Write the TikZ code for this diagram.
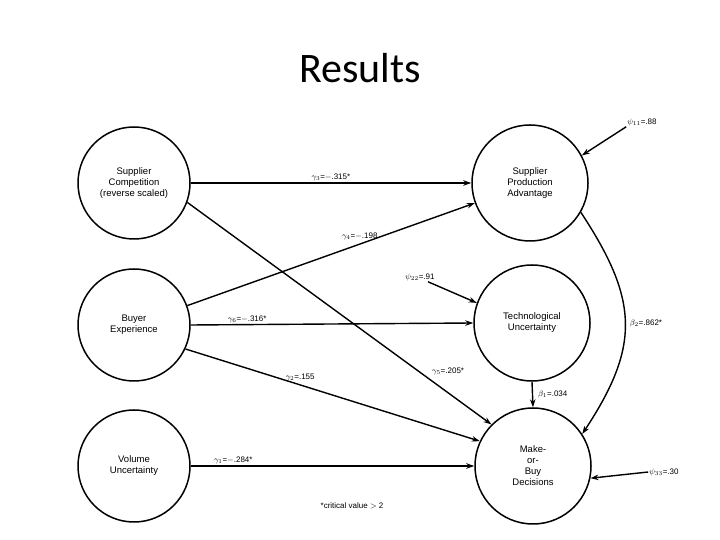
\documentclass[tikz,border=0pt]{standalone}
\usepackage{fontspec}
\setmainfont{Liberation Sans}
\newfontfamily\titlefont{Carlito}
\usetikzlibrary{arrows.meta}
\begin{document}
\begin{tikzpicture}[x=1pt,y=1pt,
  latent/.style={circle,draw,line width=1.5pt,minimum size=112pt,inner sep=0pt,align=center,font=\fontsize{9.5}{11}\selectfont},
  latentr/.style={latent,minimum size=116pt},
  path/.style={line width=1.4pt,-{Stealth[length=8pt,width=5.5pt]}},
  lab/.style={font=\fontsize{8}{9.5}\selectfont,inner sep=1pt}]
\useasboundingbox (0,0) rectangle (720,540);
\node[font=\titlefont\fontsize{42}{46}\selectfont] (title) at (360,472) {Results};
% latent variables
\node[latent] (sc) at (134,357) {Supplier\\Competition\\(reverse scaled)};
\node[latent] (be) at (134,215) {Buyer\\Experience};
\node[latent] (vu) at (134,74) {Volume\\Uncertainty};
\node[latentr] (spa) at (530,357) {Supplier\\Production\\Advantage};
\node[latentr] (tu) at (532,217) {Technological\\Uncertainty};
\node[latentr] (mob) at (533,74) {Make-\\or-\\Buy\\Decisions};
% paths
\draw[path] (sc.east) -- node[lab,above,pos=0.5] {$\gamma_3$=$-$.315*} (spa.west);
\draw[path] (be.20) -- node[lab,above=2pt,pos=0.6] {$\gamma_4$=$-$.198} (spa.200);
\draw[path] (be.east) -- node[lab,above,pos=0.2] {$\gamma_6$=$-$.316*} (tu.west);
\draw[path] (be.-25) -- node[lab,above=2pt,pos=0.39] {$\gamma_2$=.155} (mob.155);
\draw[path] (sc.-20) -- node[lab,pos=0.76,anchor=west,xshift=12pt] {$\gamma_5$=.205*} (mob.135);
\draw[path] (vu.east) -- node[lab,above,pos=0.15] {$\gamma_1$=$-$.284*} (mob.west);
\draw[path] (tu.south) -- node[lab,right=4pt] {$\beta_1$=.034} (mob.north);
\draw[path] (spa.-30) .. controls +(58,-88) and +(58,88) .. node[lab,right=3pt,pos=0.5] {$\beta_2$=.862*} (mob.33);
% disturbances
\node[lab] (psi1) at (642,418) {$\psi_{11}$=.88};
\node[lab] (psi2) at (420,263) {$\psi_{22}$=.91};
\node[lab] (psi3) at (664,68) {$\psi_{33}$=.30};
\draw[path] (psi1.south west) -- (spa.28);
\draw[path] (psi2.south) ++(8,0) coordinate (p2s) (p2s) -- (tu.160);
\draw[path] (psi3.west) -- (mob.-12);
\node[lab] (crit) at (352,34) {*critical value $>$ 2};
\end{tikzpicture}
\end{document}
